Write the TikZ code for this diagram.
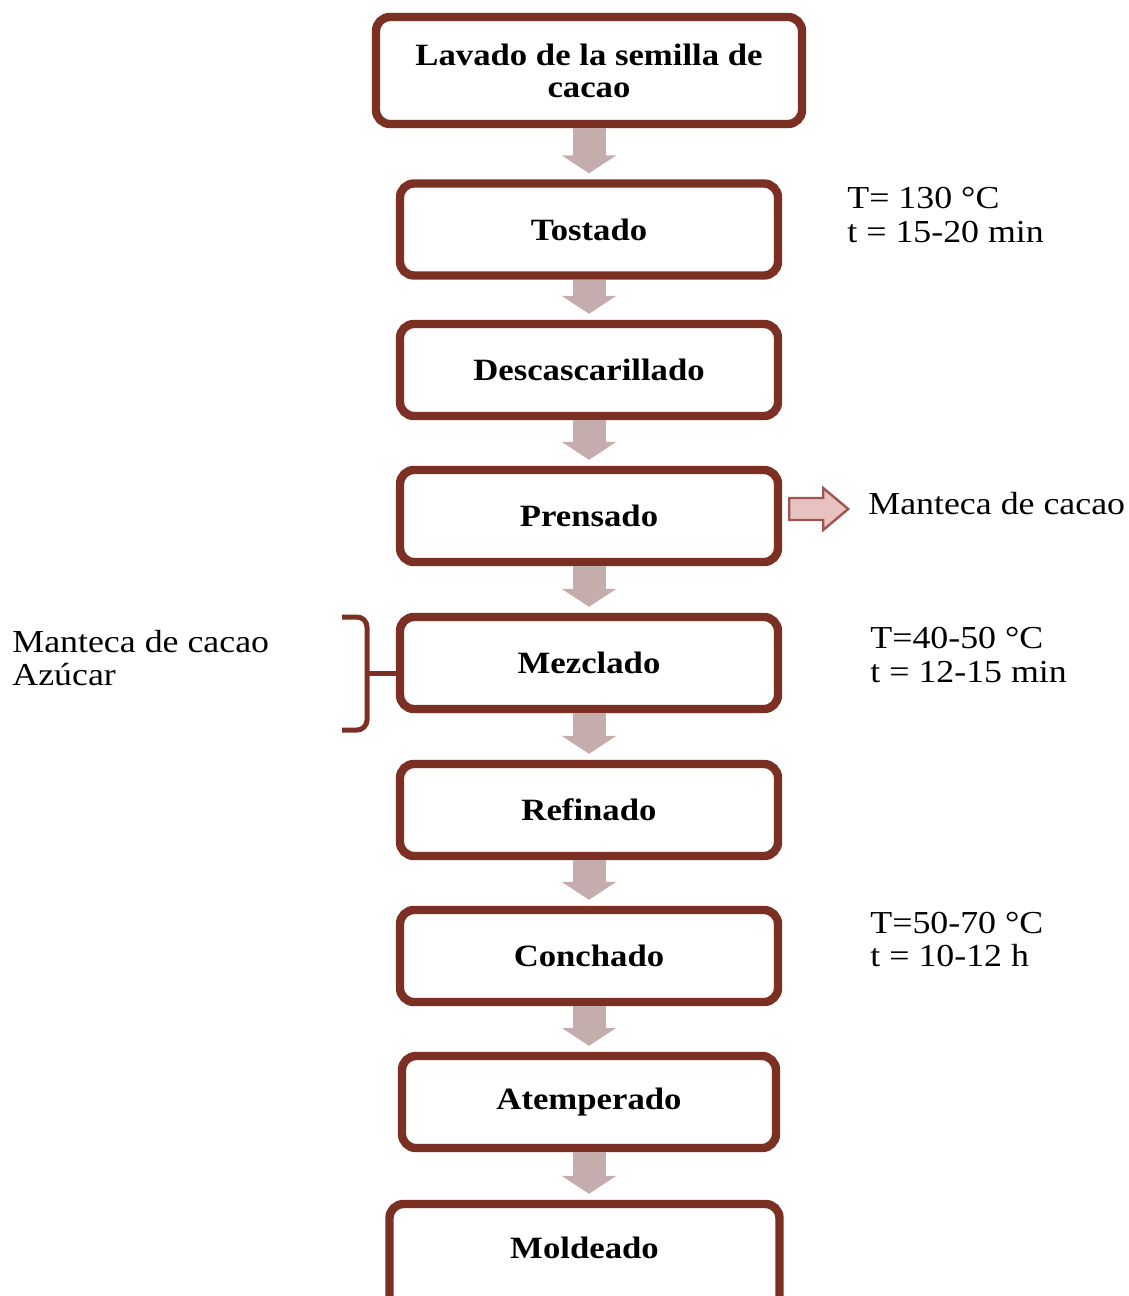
\documentclass[tikz,border=0pt]{standalone}
\usepackage{fontspec}
\setmainfont[FakeStretch=1.12]{Liberation Serif}
\usetikzlibrary{arrows.meta,calc}
\definecolor{boxline}{RGB}{123,48,35}
\definecolor{flowfill}{RGB}{196,173,172}
\definecolor{outfill}{RGB}{232,194,192}
\definecolor{outline}{RGB}{160,86,80}
\tikzset{
  stepbox/.style={draw=boxline, line width=4.2pt, rounded corners=7pt, fill=white,
    minimum width=189pt, minimum height=46pt, align=center, inner sep=2pt,
    font=\fontsize{15.5}{16}\selectfont\bfseries},
  flow/.style={draw=flowfill, line width=16.5pt,
    -{Triangle[width=27pt,length=9pt,fill=flowfill]}},
  sidetext/.style={anchor=base west, inner sep=0pt, font=\fontsize{16}{17}\selectfont},
  bracketline/.style={draw=boxline, line width=2.5pt, rounded corners=5pt},
}
\begin{document}
\begin{tikzpicture}[x=0.5pt,y=-0.5pt]
\useasboundingbox (0,0) rectangle (1129,1296);

% process steps
\node[stepbox, minimum width=213pt, minimum height=53.5pt] (b1) at (589,70.5) {Lavado de la semilla de\\cacao};
\node[stepbox] (b2) at (589,229.5) {Tostado};
\node[stepbox] (b3) at (589,370) {Descascarillado};
\node[stepbox] (b4) at (589,516) {Prensado};
\node[stepbox] (b5) at (589,663) {Mezclado};
\node[stepbox] (b6) at (589,810) {Refinado};
\node[stepbox] (b7) at (589,956) {Conchado};
\node[stepbox, minimum width=187pt] (b8) at (589,1102) {Atemperado};
\node[stepbox, minimum width=195pt, minimum height=56pt, text depth=12pt] (b9) at (584.5,1260) {Moldeado};

% flow arrows between steps
\foreach \a/\b in {b1/b2,b2/b3,b3/b4,b4/b5,b5/b6,b6/b7,b7/b8,b8/b9}
  \draw[flow] (\a.south -| 589,0) -- ([yshift=3pt]\b.north -| 589,0);

% by-product output
\coordinate (out) at ([shift={(7,-7)}]b4.east);
\draw[draw=outline, fill=outfill, line width=1.2pt, line join=miter]
  (out) ++(0,-11) -- ++(34,0) -- ++(0,-10) -- ++(25,21) -- ++(-25,21)
  -- ++(0,-10) -- ++(-34,0) -- cycle;
\node[sidetext] (mo) at (868,514) {Manteca de cacao};

% ingredients added at mixing
\coordinate (bj) at (367,673);
\draw[bracketline] (342,617) -- (367,617) -- (367,730) -- (342,730);
\draw[draw=boxline, line width=2.5pt] (bj) -- (bj -| b5.west);
\node[sidetext] (in1) at (12,652) {Manteca de cacao};
\node[sidetext] (in2) at (12,685) {Azúcar};

% process conditions
\node[sidetext] (c1a) at (847,208) {T= 130 °C};
\node[sidetext] (c1b) at (847,242) {t = 15-20 min};
\node[sidetext] (c2a) at (870,648) {T=40-50 °C};
\node[sidetext] (c2b) at (870,682) {t = 12-15 min};
\node[sidetext] (c3a) at (870,933) {T=50-70 °C};
\node[sidetext] (c3b) at (870,966) {t = 10-12 h};
\end{tikzpicture}
\end{document}
